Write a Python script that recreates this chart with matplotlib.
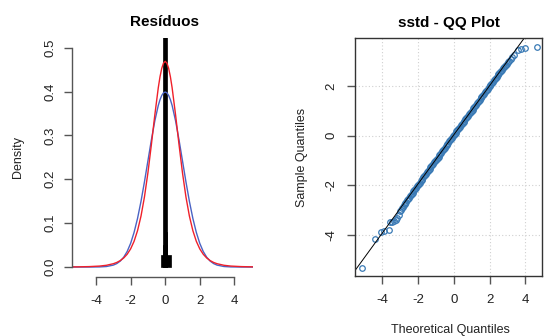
import matplotlib
matplotlib.use("Agg")
import matplotlib.pyplot as plt

plt.rcParams["font.family"] = ["Liberation Sans", "DejaVu Sans"]

# --- left panel: residual density ---
dens_x = [-5.39, -5.1, -4.4, -3.8, -3.4, -3.0, -2.8, -2.6, -2.4, -2.2, -2.0, -1.8, -1.6,
          -1.4, -1.2, -1.0, -0.8, -0.6, -0.4, -0.3, -0.2, -0.1, 0.0, 0.1, 0.2, 0.3, 0.4,
          0.6, 0.8, 1.0, 1.2, 1.4, 1.6, 1.8, 2.0, 2.2, 2.4, 2.6, 2.8, 3.0, 3.4, 3.8, 4.4,
          5.08]
norm_y = [0.0, 0.0, 0.0, 0.0003, 0.0012, 0.0044, 0.0079, 0.0136, 0.0224, 0.0355, 0.0540,
          0.0790, 0.1109, 0.1497, 0.1942, 0.2420, 0.2897, 0.3332, 0.3683, 0.3814, 0.3910,
          0.3970, 0.3989, 0.3970, 0.3910, 0.3814, 0.3683, 0.3332, 0.2897, 0.2420, 0.1942,
          0.1497, 0.1109, 0.0790, 0.0540, 0.0355, 0.0224, 0.0136, 0.0079, 0.0044, 0.0012,
          0.0003, 0.0, 0.0]
sstd_y = [0.0004, 0.0004, 0.0010, 0.0022, 0.0040, 0.0076, 0.0105, 0.0147, 0.0207, 0.0292,
          0.0414, 0.0587, 0.0830, 0.1161, 0.1598, 0.2147, 0.2789, 0.3467, 0.4087, 0.4337,
          0.4528, 0.4647, 0.4688, 0.4647, 0.4528, 0.4337, 0.4087, 0.3467, 0.2789, 0.2147,
          0.1598, 0.1161, 0.0830, 0.0587, 0.0414, 0.0292, 0.0207, 0.0147, 0.0105, 0.0076,
          0.0040, 0.0022, 0.0010, 0.0004]

# histogram bars (left edge, width, height)
hist_left = [-0.24, -0.10, 0.00, -0.10]
hist_width = [0.56, 0.22, 0.12, 0.21]
hist_height = [0.027, 0.050, 0.080, 0.600]

# --- right panel: QQ plot ---
tail_lo_x = [-5.11, -4.41, -4.08, -3.88, -3.63, -3.56, -3.45, -3.32, -3.22, -3.15, -3.08, -3.02]
tail_lo_y = [-5.32, -4.16, -3.89, -3.83, -3.81, -3.49, -3.46, -3.42, -3.38, -3.30, -3.20, -3.05]
band_x = [-2.95, -2.90, -2.85, -2.80, -2.75, -2.70, -2.65, -2.60, -2.55, -2.50,
          -2.45, -2.40, -2.35, -2.30, -2.25, -2.20, -2.15, -2.10, -2.05, -2.00,
          -1.95, -1.90, -1.85, -1.80, -1.75, -1.70, -1.65, -1.60, -1.55, -1.50,
          -1.45, -1.40, -1.35, -1.30, -1.25, -1.20, -1.15, -1.10, -1.05, -1.00,
          -0.95, -0.90, -0.85, -0.80, -0.75, -0.70, -0.65, -0.60, -0.55, -0.50,
          -0.45, -0.40, -0.35, -0.30, -0.25, -0.20, -0.15, -0.10, -0.05, 0.00,
          0.05, 0.10, 0.15, 0.20, 0.25, 0.30, 0.35, 0.40, 0.45, 0.50,
          0.55, 0.60, 0.65, 0.70, 0.75, 0.80, 0.85, 0.90, 0.95, 1.00,
          1.05, 1.10, 1.15, 1.20, 1.25, 1.30, 1.35, 1.40, 1.45, 1.50,
          1.55, 1.60, 1.65, 1.70, 1.75, 1.80, 1.85, 1.90, 1.95, 2.00,
          2.05, 2.10, 2.15, 2.20, 2.25, 2.30, 2.35, 2.40, 2.45, 2.50,
          2.55, 2.60, 2.65, 2.70, 2.75, 2.80, 2.85, 2.90, 2.95]
band_y = [-2.98, -2.92, -2.87, -2.80, -2.74, -2.70, -2.66, -2.60, -2.55, -2.49,
          -2.43, -2.39, -2.34, -2.29, -2.24, -2.18, -2.13, -2.09, -2.04, -1.98,
          -1.93, -1.89, -1.84, -1.78, -1.74, -1.68, -1.63, -1.59, -1.54, -1.48,
          -1.43, -1.39, -1.34, -1.28, -1.23, -1.19, -1.14, -1.08, -1.03, -0.98,
          -0.93, -0.89, -0.84, -0.78, -0.73, -0.68, -0.63, -0.59, -0.54, -0.48,
          -0.43, -0.38, -0.33, -0.28, -0.23, -0.18, -0.13, -0.08, -0.03, 0.02,
          0.07, 0.12, 0.17, 0.21, 0.26, 0.31, 0.36, 0.41, 0.47, 0.51,
          0.56, 0.61, 0.66, 0.71, 0.76, 0.81, 0.86, 0.91, 0.96, 1.00,
          1.05, 1.10, 1.15, 1.20, 1.25, 1.30, 1.35, 1.40, 1.45, 1.50,
          1.55, 1.60, 1.65, 1.69, 1.74, 1.79, 1.84, 1.89, 1.94, 1.99,
          2.04, 2.09, 2.14, 2.18, 2.23, 2.28, 2.33, 2.38, 2.43, 2.47,
          2.52, 2.57, 2.62, 2.66, 2.71, 2.75, 2.80, 2.85, 2.90]
tail_hi_x = [3.02, 3.10, 3.18, 3.27, 3.39, 3.61, 3.74, 3.98, 4.64]
tail_hi_y = [2.97, 3.02, 3.08, 3.17, 3.26, 3.46, 3.49, 3.52, 3.57]
qq_line = (0.03, 0.99)  # intercept, slope

axis_col = "#555555"
fig = plt.figure(figsize=(5.44, 3.36), dpi=100)

# ---------------- left panel ----------------
ax1 = fig.add_axes([0.1324, 0.1765, 0.3327, 0.7104])
ax1.bar(hist_left, hist_height, width=hist_width, align="edge", color="black",
        edgecolor="black", linewidth=0.5)
ax1.plot(dens_x, norm_y, color="#4a63c4", lw=1.0)
ax1.plot(dens_x, sstd_y, color="#f0202a", lw=1.0)
ax1.set_xlim(-5.39, 5.08)
ax1.set_ylim(-0.022, 0.522)
ax1.set_xticks([-4, -2, 0, 2, 4])
ax1.set_xticklabels(["-4", "-2", "0", "2", "4"])
ax1.set_yticks([0.0, 0.1, 0.2, 0.3, 0.4, 0.5])
ax1.set_yticklabels(["0.0", "0.1", "0.2", "0.3", "0.4", "0.5"], rotation=90, va="center")
for s in ["top", "right"]:
    ax1.spines[s].set_visible(False)
ax1.spines["bottom"].set_bounds(-4, 4)
ax1.spines["left"].set_bounds(0, 0.5)
for s in ["bottom", "left"]:
    ax1.spines[s].set_color(axis_col)
    ax1.spines[s].set_linewidth(1.0)
ax1.tick_params(axis="both", length=6, width=1.0, color=axis_col, labelsize=9.5,
                labelcolor="#222222")
ax1.tick_params(axis="x", pad=7)
ax1.tick_params(axis="y", pad=5)
fig.text(164.5 / 544, 1 - 22 / 336, "Resíduos", ha="center", va="center",
         fontsize=11, fontweight="bold")
fig.text(18.3 / 544, 1 - 157 / 336, "Density", ha="center", va="center",
         rotation=90, fontsize=9, color="#222222")

# ---------------- right panel ----------------
ax2 = fig.add_axes([0.6531, 0.1786, 0.3432, 0.7074])
ax2.set_xlim(-5.50, 4.93)
ax2.set_ylim(-5.65, 3.92)
for g in [-4, -2, 0, 2, 4]:
    ax2.axvline(g, color="#d0d0d0", lw=0.8, ls=(0, (1, 2)), zorder=0)
for g in [-4, -2, 0, 2]:
    ax2.axhline(g, color="#d0d0d0", lw=0.8, ls=(0, (1, 2)), zorder=0)
pt_style = dict(ls="none", marker="o", ms=4.0, mfc="none", mec="#3a7ab5", mew=0.9)
ax2.plot(band_x, band_y, **pt_style)
ax2.plot(tail_lo_x, tail_lo_y, **pt_style)
ax2.plot(tail_hi_x, tail_hi_y, **pt_style)
a, b = qq_line
ax2.plot([-6, 6], [a - 6 * b, a + 6 * b], color="black", lw=0.7)
ax2.set_xticks([-4, -2, 0, 2, 4])
ax2.set_xticklabels(["-4", "-2", "0", "2", "4"])
ax2.set_yticks([-4, -2, 0, 2])
ax2.set_yticklabels(["-4", "-2", "0", "2"], rotation=90, va="center")
for s in ax2.spines.values():
    s.set_color("#333333")
    s.set_linewidth(1.0)
ax2.tick_params(axis="both", length=6, width=1.0, color=axis_col, labelsize=9.5,
                labelcolor="#222222")
ax2.tick_params(axis="x", pad=7)
ax2.tick_params(axis="y", pad=7)
fig.text(449 / 544, 1 - 22.5 / 336, "sstd - QQ Plot", ha="center", va="center",
         fontsize=11, fontweight="bold")
fig.text(302 / 544, 1 - 157 / 336, "Sample Quantiles", ha="center", va="center",
         rotation=90, fontsize=9, color="#222222")
fig.text(450.5 / 544, 1 - 324 / 336, "Theoretical Quantiles", ha="center", va="top",
         fontsize=9, color="#222222")

fig.savefig("out.png", dpi=100)
